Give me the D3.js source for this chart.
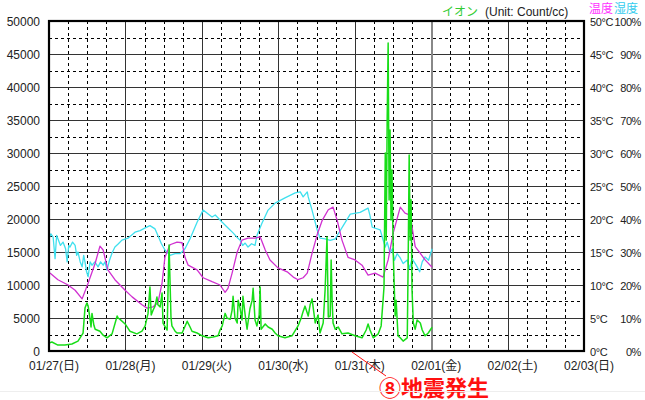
<!DOCTYPE html>
<html>
<head>
<meta charset="utf-8">
<script src="https://cdn.jsdelivr.net/npm/d3@7"></script>
<style>
  body { margin: 0; background: #fff; }
  svg text { font-family: "Liberation Sans", Arial, "Noto Sans CJK JP", sans-serif; }
</style>
</head>
<body>
<svg id="chart" width="645" height="400"></svg>
<script>
// Ion / temperature / humidity log, 01/27 - 02/03 (hours from 01/27 00:00)

var dayHours = [0, 24, 48, 72, 96, 120, 144, 168];
var dayLabels = ["01/27(日)", "01/28(月)", "01/29(火)", "01/30(水)", "01/31(木)", "02/01(金)", "02/02(土)", "02/03(日)"];
var ionTicks = [0, 5000, 10000, 15000, 20000, 25000, 30000, 35000, 40000, 45000, 50000];
var tempTicks = [0, 5, 10, 15, 20, 25, 30, 35, 40, 45, 50];
var humTicks = [0, 10, 20, 30, 40, 50, 60, 70, 80, 90, 100];

// [hour, count/cc]
var ion = [
  [0, 1200], [0.9, 1360], [2.8, 900], [5.0, 900], [7.2, 1060], [9.1, 1500], [10.7, 2700],
  [11.3, 6500], [11.9, 7270], [12.3, 6800], [12.9, 4800], [13.2, 3640], [13.5, 5700], [14.1, 3900],
  [14.5, 3300], [16.0, 3000], [17.0, 2400], [18.2, 2000], [19.8, 2600], [21.4, 5300], [21.7, 5000],
  [22.3, 4800], [23.9, 4100], [25.4, 3000], [27.6, 2600], [29.2, 3000], [30.2, 3800], [31.1, 5700],
  [31.7, 9700], [32.1, 5450], [32.7, 6210], [33.3, 6800], [33.9, 8180], [34.2, 7000], [34.9, 6670],
  [35.5, 8790], [35.8, 4240], [37.1, 3180], [37.7, 16060], [38.3, 5150], [38.6, 3800], [39.6, 3000],
  [40.2, 2730], [41.8, 2730], [43.4, 4500], [44.3, 3640], [44.9, 3000], [46.5, 2730], [48.1, 2300],
  [50.0, 2000], [51.5, 2120], [53.1, 2300], [53.7, 3180], [54.4, 3800], [55.3, 5700], [55.9, 5000],
  [56.9, 4800], [57.5, 6200], [57.8, 8300], [58.4, 5000], [59.1, 4240], [59.4, 7700], [60.0, 6500],
  [60.6, 4700], [60.9, 8300], [61.6, 5450], [62.2, 3300], [63.1, 6400], [63.8, 7700], [64.1, 9500],
  [64.7, 4700], [65.3, 3800], [66.0, 5450], [66.3, 9700], [66.6, 3300], [67.9, 4100], [68.8, 3640],
  [70.1, 3300], [71.0, 2730], [71.9, 2300], [74.1, 2000], [76.3, 2300], [78.2, 3800], [79.2, 5000],
  [79.8, 6000], [80.4, 6800], [81.4, 5300], [82.0, 7000], [82.6, 7900], [83.6, 4240], [84.5, 5450],
  [85.1, 2730], [86.1, 4240], [86.7, 9240], [87.3, 17270], [87.7, 5150], [88.3, 5300], [88.6, 13800],
  [88.9, 7700], [89.2, 4240], [89.9, 3300], [90.8, 3640], [92.0, 2600], [93.9, 2730], [96.1, 2300],
  [98.3, 2000], [99.6, 3180], [100.2, 4100], [100.8, 3180], [101.8, 2000], [103.4, 2600], [104.3, 3800],
  [104.9, 7700], [105.2, 9700], [105.6, 30000], [105.9, 16800], [106.2, 35450], [106.5, 46670],
  [106.8, 22880], [107.1, 33480], [107.4, 19850], [107.7, 27420], [108.1, 14850], [108.7, 5300],
  [109.0, 7700], [109.6, 2300], [110.3, 2000], [111.2, 1500], [112.5, 2000], [112.8, 14240],
  [113.1, 29700], [113.4, 16800], [113.7, 22900], [114.0, 9240], [114.4, 4240], [115.0, 3300],
  [115.6, 4700], [116.6, 4240], [117.2, 3180], [118.1, 2300], [119.1, 2730], [120.3, 3600]
];

// [hour, °C]
var temperature = [
  [0.3, 11.8], [2.8, 10.8], [6.0, 10.0], [8.2, 9.2], [10.4, 7.9], [12.3, 10.3], [14.5, 13.3],
  [16.0, 15.9], [17.0, 15.3], [18.5, 12.3], [20.7, 10.8], [23.9, 9.2], [26.1, 8.2], [29.2, 7.0],
  [30.8, 6.5], [32.7, 6.7], [34.2, 7.3], [35.5, 10.3], [36.4, 14.2], [38.0, 16.1], [40.2, 16.5],
  [41.8, 16.4], [42.7, 14.2], [43.7, 13.0], [46.5, 12.3], [48.4, 11.1], [51.2, 10.5], [53.7, 10.0],
  [55.3, 8.9], [56.2, 9.5], [57.5, 11.8], [59.1, 15.0], [60.6, 16.8], [62.5, 17.1], [64.7, 17.1],
  [66.3, 17.3], [67.9, 15.3], [69.4, 13.8], [71.9, 12.6], [74.8, 12.0], [76.7, 11.2], [78.2, 10.8],
  [79.8, 11.1], [81.1, 11.8], [82.6, 14.8], [84.2, 17.6], [85.8, 19.8], [87.7, 21.4], [89.2, 21.8],
  [90.5, 19.8], [92.0, 16.8], [93.9, 14.2], [96.1, 13.8], [98.3, 13.0], [100.2, 11.5], [102.4, 11.8],
  [104.9, 11.2], [106.5, 13.8], [108.1, 17.9], [110.3, 21.8], [111.8, 20.9], [113.4, 20.6],
  [115.0, 15.8], [116.6, 14.8], [118.1, 13.8], [120.3, 12.7]
];

// [hour, %]
var humidity = [
  [0, 34], [0.6, 35.5], [1.3, 34.5], [1.9, 28], [2.4, 35], [2.8, 34], [3.6, 32], [4.4, 33],
  [5.2, 31], [5.7, 27], [6.2, 32], [6.6, 31.5], [7.4, 33], [8.2, 32], [8.7, 29], [9.1, 30],
  [9.8, 27], [10.4, 25.5], [10.9, 29], [11.3, 27], [11.8, 24], [12.3, 22.5], [12.9, 27], [13.5, 26],
  [14.4, 27], [15.4, 25.5], [16.2, 27], [17.0, 26], [17.6, 27], [18.2, 24.5], [19.0, 27.5],
  [19.8, 29.7], [20.7, 31.5], [21.8, 32.5], [22.9, 33.6], [24.8, 34.2], [27.0, 36], [28.6, 36.5],
  [30.2, 37.3], [31.7, 38], [33.3, 37], [34.2, 35], [35.3, 32.5], [36.4, 30.6], [38.0, 29],
  [39.6, 29.5], [41.2, 29.5], [42.7, 31], [44.3, 34], [46.5, 39], [48.4, 42.7], [49.6, 41.8],
  [51.2, 40.6], [52.2, 41.2], [54.4, 39], [55.9, 37.6], [57.8, 35.8], [59.0, 34.5], [60.0, 33.6],
  [60.8, 32], [61.6, 32.7], [62.5, 31.5], [63.6, 32.5], [64.7, 32], [65.3, 35], [66.9, 38.8],
  [68.8, 42.7], [71.0, 44.8], [74.1, 46.4], [77.3, 47.9], [78.9, 48.2], [79.8, 46.7], [81.1, 48.2],
  [81.4, 46.7], [82.6, 42.7], [84.2, 36.7], [85.1, 34.2], [86.7, 34], [88.3, 33.5], [89.9, 34],
  [90.5, 35], [92.4, 38], [94.6, 41.5], [97.7, 42], [100.2, 43.3], [100.8, 41], [101.5, 37.5],
  [104.0, 36.7], [104.8, 34], [105.6, 31.5], [106.2, 33], [107.1, 29.7], [107.8, 31], [108.5, 27.5],
  [109.3, 29.5], [110.3, 28.2], [111.2, 26.5], [112.5, 27.6], [113.2, 25], [114.0, 28], [115.0, 26.5],
  [115.6, 25.5], [116.4, 24], [117.2, 27], [118.1, 28.5], [119.2, 27.5], [120.3, 31]
];

var C = {
  ion: "#18dd18",
  temp: "#d030d0",
  hum: "#3fe0ee",
  grid: "#000",
  solid: "#333",
  now: "#888",
  note: "#ff1010"
};

var svg = d3.select("#chart");
var L = 49, R = 584, T = 21, B = 351;

var x = d3.scaleLinear().domain([0, 168]).range([L, R]);
var yIon = d3.scaleLinear().domain([0, 50000]).range([B, T]);
var yTemp = d3.scaleLinear().domain([0, 50]).range([B, T]);
var yHum = d3.scaleLinear().domain([0, 100]).range([B, T]);

var grid = svg.append("g").attr("shape-rendering", "crispEdges");

// dashed: every 2500 count and every 6 hours
var halfSteps = d3.range(2500, 50000, 5000);
grid.selectAll(".hd").data(halfSteps).enter().append("line")
  .attr("x1", L).attr("x2", R)
  .attr("y1", function (d) { return Math.round(yIon(d)) + 0.5; })
  .attr("y2", function (d) { return Math.round(yIon(d)) + 0.5; })
  .attr("stroke", C.grid).attr("stroke-dasharray", "3 3");

var quarterHours = d3.range(6, 168, 6).filter(function (h) { return h % 24 !== 0; });
grid.selectAll(".vd").data(quarterHours).enter().append("line")
  .attr("y1", T).attr("y2", B)
  .attr("x1", function (d) { return Math.round(x(d)) + 0.5; })
  .attr("x2", function (d) { return Math.round(x(d)) + 0.5; })
  .attr("stroke", C.grid).attr("stroke-dasharray", "3 3");

// solid: every 5000 count and every day
grid.selectAll(".hs").data(ionTicks.slice(1, -1)).enter().append("line")
  .attr("x1", L).attr("x2", R)
  .attr("y1", function (d) { return Math.round(yIon(d)) + 0.5; })
  .attr("y2", function (d) { return Math.round(yIon(d)) + 0.5; })
  .attr("stroke", C.solid);

grid.selectAll(".vs").data(dayHours.slice(1, -1)).enter().append("line")
  .attr("y1", T).attr("y2", B)
  .attr("x1", function (d) { return Math.round(x(d)) + 0.5; })
  .attr("x2", function (d) { return Math.round(x(d)) + 0.5; })
  .attr("stroke", function (d) { return d === 120 ? C.now : C.solid; })
  .attr("stroke-width", function (d) { return d === 120 ? 2 : 1; });

// series
function drawSeries(data, yScale, color, w) {
  var line = d3.line()
    .x(function (d) { return x(d[0]); })
    .y(function (d) { return yScale(d[1]); });
  svg.append("path").datum(data)
    .attr("d", line)
    .attr("fill", "none")
    .attr("stroke", color)
    .attr("stroke-width", w)
    .attr("stroke-linejoin", "round");
}
drawSeries(humidity, yHum, C.hum, 1.3);
drawSeries(temperature, yTemp, C.temp, 1.3);
drawSeries(ion, yIon, C.ion, 1.5);

// frame
svg.append("rect")
  .attr("x", L).attr("y", T).attr("width", R - L).attr("height", B - T)
  .attr("fill", "none").attr("stroke", "#000").attr("stroke-width", 2.2);

// axes
function clean(g, size) {
  g.select(".domain").remove();
  g.selectAll("text").attr("font-size", size).attr("fill", "#222");
}

svg.append("g").attr("transform", "translate(" + L + ",0)")
  .call(d3.axisLeft(yIon).tickValues(ionTicks).tickSize(0).tickPadding(9)
    .tickFormat(d3.format("d")))
  .call(clean, "12px")
  .selectAll("text").attr("dy", "0.35em");

svg.append("g").attr("transform", "translate(0," + (B + 2) + ")")
  .call(d3.axisBottom(x).tickValues(dayHours).tickSize(0).tickPadding(8)
    .tickFormat(function (d, i) { return dayLabels[i]; }))
  .call(clean, "12px")
  .selectAll("text").attr("dx", "4.5");

svg.append("g").attr("transform", "translate(" + R + ",0)")
  .call(d3.axisRight(yTemp).tickValues(tempTicks).tickSize(0).tickPadding(6)
    .tickFormat(function (d) { return d + "°C"; }))
  .call(clean, "11px")
  .selectAll("text").attr("dy", "0.45em").attr("letter-spacing", "-0.4px");

svg.append("g").attr("transform", "translate(" + R + ",0)")
  .call(d3.axisRight(yHum).tickValues(humTicks).tickSize(0).tickPadding(57)
    .tickFormat(function (d) { return d + "%"; }))
  .call(clean, "11px")
  .selectAll("text").attr("text-anchor", "end").attr("dy", "0.45em").attr("letter-spacing", "-0.4px");

// header
svg.append("text").attr("x", 442).attr("y", 16).attr("font-size", "12px")
  .attr("fill", "#33cc33").text("イオン");
svg.append("text").attr("x", 485).attr("y", 15.5).attr("font-size", "12px")
  .attr("fill", "#222").text("(Unit: Count/cc)");
svg.append("text").attr("x", 589).attr("y", 13).attr("font-size", "12px")
  .attr("fill", "#ff33ff").text("温度");
svg.append("text").attr("x", 614).attr("y", 13).attr("font-size", "12px")
  .attr("fill", "#33ccee").text("湿度");

// earthquake note
svg.append("line")
  .attr("x1", 352).attr("y1", 352).attr("x2", 386).attr("y2", 376)
  .attr("stroke", C.note).attr("stroke-width", 1);
svg.append("text").attr("x", 379).attr("y", 396)
  .attr("font-size", "22px").attr("font-weight", "bold")
  .attr("font-family", "'Noto Sans CJK JP', sans-serif")
  .attr("fill", C.note).text("⑧地震発生");

svg.append("line").attr("x1", 0).attr("x2", 645).attr("y1", 391.5).attr("y2", 391.5)
  .attr("stroke", "#eee");
</script>
</body>
</html>
